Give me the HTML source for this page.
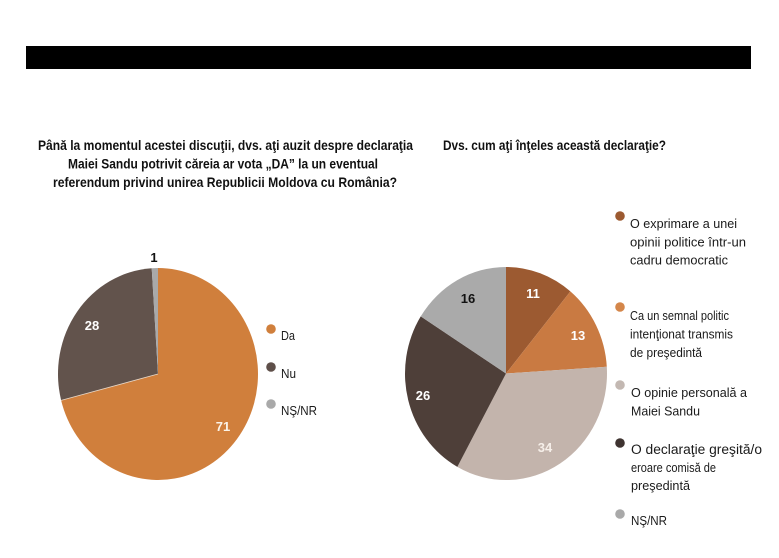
<!DOCTYPE html>
<html>
<head>
<meta charset="utf-8">
<style>
html,body{margin:0;padding:0;background:#fff;}
svg{display:block;}
text{font-family:"Liberation Sans", Arial, sans-serif;}
</style>
</head>
<body>
<svg width="779" height="558" viewBox="0 0 779 558" xmlns="http://www.w3.org/2000/svg">
<rect x="0" y="0" width="779" height="558" fill="#ffffff"/>
<!-- black bar -->
<rect x="26" y="46" width="725" height="23" fill="#000"/>

<!-- titles -->
<g font-weight="bold" font-size="14" fill="#111">
<text x="38" y="150" textLength="375" lengthAdjust="spacingAndGlyphs">Până la momentul acestei discuţii, dvs. aţi auzit despre declaraţia</text>
<text x="68" y="168.5" textLength="310" lengthAdjust="spacingAndGlyphs">Maiei Sandu potrivit căreia ar vota „DA” la un eventual</text>
<text x="53" y="187" textLength="344" lengthAdjust="spacingAndGlyphs">referendum privind unirea Republicii Moldova cu România?</text>
<text x="443" y="150" textLength="223" lengthAdjust="spacingAndGlyphs">Dvs. cum aţi înţeles această declaraţie?</text>
</g>

<!-- left pie -->
<g transform="translate(158,374) scale(1,1.06)">
<path d="M0,0 L0,-100 A100,100 0 1 1 -96.86,24.87 Z" fill="#D07F3C"/>
<path d="M0,0 L-96.86,24.87 A100,100 0 0 1 -6.28,-99.80 Z" fill="#62534C"/>
<path d="M0,0 L-6.28,-99.80 A100,100 0 0 1 0,-100 Z" fill="#A9A9A9"/>
<path d="M0,0 L-96.86,24.87" stroke="#e8d8c8" stroke-width="0.8" fill="none"/>
</g>
<g font-weight="bold" font-size="13" text-anchor="middle">
<text x="154" y="262" fill="#111">1</text>
<text x="92" y="330" fill="#fff">28</text>
<text x="223" y="431" fill="#fbf3e8">71</text>
</g>
<!-- left legend -->
<circle cx="271" cy="329" r="4.8" fill="#D07F3C"/>
<circle cx="271" cy="367" r="4.8" fill="#5E4F49"/>
<circle cx="271" cy="404" r="4.8" fill="#A9A9A9"/>
<g font-size="13" fill="#1a1a1a">
<text x="281" y="340" textLength="14" lengthAdjust="spacingAndGlyphs">Da</text>
<text x="281" y="378" textLength="15" lengthAdjust="spacingAndGlyphs">Nu</text>
<text x="281" y="415" textLength="36" lengthAdjust="spacingAndGlyphs">NŞ/NR</text>
</g>

<!-- right pie -->
<g transform="translate(506,373.5) scale(1,1.055)">
<path d="M0,0 L0,-101 A101,101 0 0 1 64.38,-77.82 Z" fill="#9C5A31"/>
<path d="M0,0 L64.38,-77.82 A101,101 0 0 1 100.80,-6.34 Z" fill="#C97A42"/>
<path d="M0,0 L100.80,-6.34 A101,101 0 0 1 -48.66,88.51 Z" fill="#C3B4AC"/>
<path d="M0,0 L-48.66,88.51 A101,101 0 0 1 -85.27,-54.12 Z" fill="#4E3F39"/>
<path d="M0,0 L-85.27,-54.12 A101,101 0 0 1 0,-101 Z" fill="#AAAAAA"/>
</g>
<g font-weight="bold" font-size="13" text-anchor="middle">
<text x="468" y="303" fill="#111">16</text>
<text x="533" y="298" fill="#fff">11</text>
<text x="578" y="340" fill="#fff">13</text>
<text x="423" y="400" fill="#fff">26</text>
<text x="545" y="452" fill="#f6efe9">34</text>
</g>

<!-- right legend -->
<circle cx="620" cy="216" r="4.8" fill="#9C5A31"/>
<circle cx="620" cy="307" r="4.8" fill="#D4864A"/>
<circle cx="620" cy="385" r="4.8" fill="#C3B8B2"/>
<circle cx="620" cy="443" r="4.8" fill="#3E3330"/>
<circle cx="620" cy="514" r="4.8" fill="#A9A9A9"/>
<g font-size="13" fill="#1a1a1a">
<text x="630" y="228" textLength="107" lengthAdjust="spacingAndGlyphs">O exprimare a unei</text>
<text x="630" y="246.5" textLength="116" lengthAdjust="spacingAndGlyphs">opinii politice într-un</text>
<text x="630" y="264.5" textLength="98" lengthAdjust="spacingAndGlyphs">cadru democratic</text>

<text x="630" y="320" font-size="12.5" textLength="99" lengthAdjust="spacingAndGlyphs">Ca un semnal politic</text>
<text x="630" y="338.5" font-size="12.5" textLength="103" lengthAdjust="spacingAndGlyphs">intenţionat transmis</text>
<text x="630" y="357" font-size="12.5" textLength="72" lengthAdjust="spacingAndGlyphs">de preşedintă</text>

<text x="631" y="397" textLength="116" lengthAdjust="spacingAndGlyphs">O opinie personală a</text>
<text x="631" y="415.5" textLength="69" lengthAdjust="spacingAndGlyphs">Maiei Sandu</text>

<text x="631" y="454" font-size="13.5" textLength="131" lengthAdjust="spacingAndGlyphs">O declaraţie greşită/o</text>
<text x="631" y="472" font-size="12.5" textLength="85" lengthAdjust="spacingAndGlyphs">eroare comisă de</text>
<text x="631" y="490" textLength="59" lengthAdjust="spacingAndGlyphs">preşedintă</text>

<text x="631" y="525" textLength="36" lengthAdjust="spacingAndGlyphs">NŞ/NR</text>
</g>
</svg>
</body>
</html>
